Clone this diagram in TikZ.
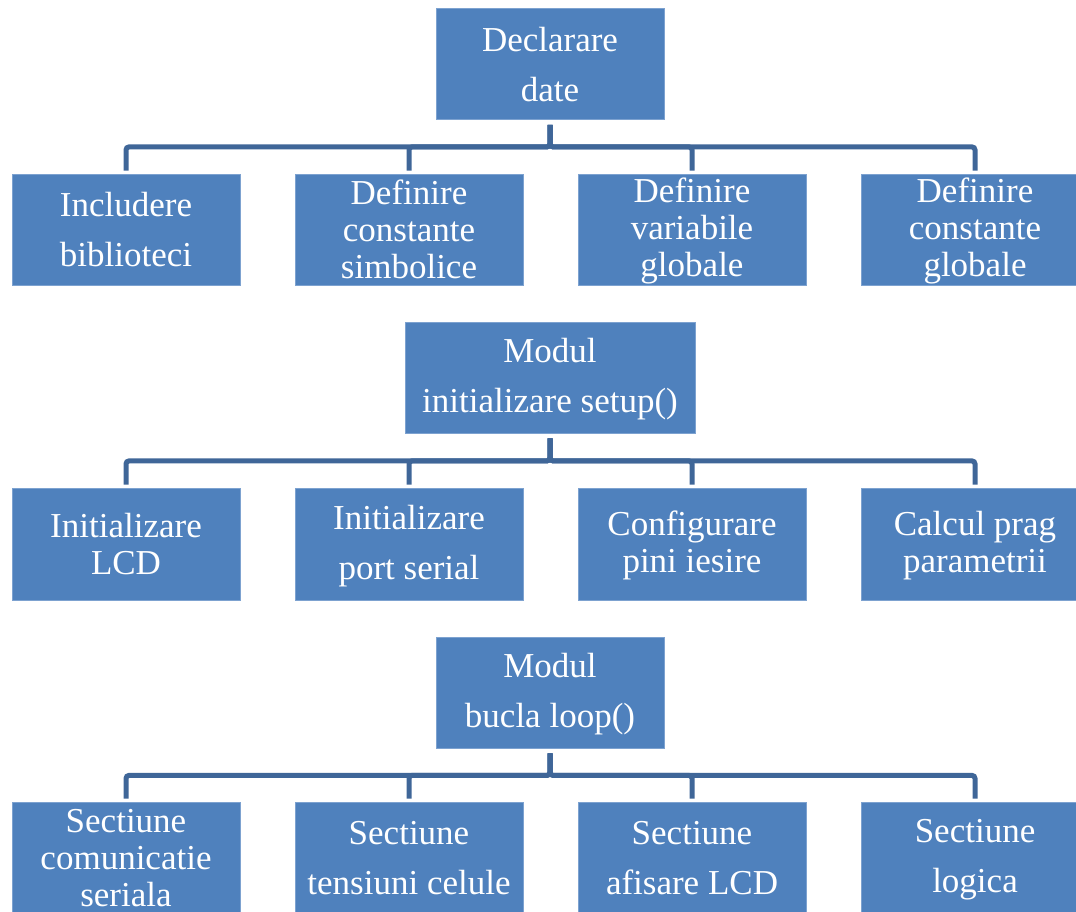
\documentclass[tikz,border=0pt]{standalone}
\usepackage{fontspec}
\setmainfont{Liberation Serif}
\definecolor{boxblue}{RGB}{79,129,189}
\definecolor{boxedge}{RGB}{125,162,208}
\definecolor{linkblue}{RGB}{63,102,152}
% strut fixing the ascent of the first and the descent of the last line
\newcommand\ls{\vrule height 28pt depth 4pt width 0pt}
\tikzset{
  box/.style={fill=boxblue, draw=boxedge, line width=0.8pt,
    minimum width=228pt, minimum height=111pt, inner sep=0pt,
    align=center, text=white, font=\fontsize{35}{50}\selectfont},
  tight/.style={font=\fontsize{35}{37}\selectfont},
  conn/.style={draw=linkblue, line width=5pt, rounded corners=3pt,
    shorten <=5pt, shorten >=3pt}
}
\begin{document}
\begin{tikzpicture}[x=1pt, y=-1pt]
\useasboundingbox (0,0) rectangle (1076,911);
\clip (0,0) rectangle (1076,911);

% --- data declarations
\node[box] (dd) at (550,64) {\ls Declarare\\date\ls};
\node[box] (a1) at (126,229.5) {\ls Includere\\biblioteci\ls};
\node[box,tight] (a2) at (409,229.5) {\ls Definire\\constante\\simbolice\ls};
\node[box,tight] (a3) at (692,229.5) {\ls Definire\\variabile\\globale\ls};
\node[box,tight] (a4) at (975,229.5) {\ls Definire\\constante\\globale\ls};

% --- setup module
\node[box, minimum width=290pt] (ms) at (550,377.5) {\ls Modul\\initializare setup()\ls};
\node[box,tight, minimum height=112pt] (b1) at (126,544) {\ls Initializare\\LCD\ls};
\node[box, minimum height=112pt] (b2) at (409,544) {\ls Initializare\\port serial\ls};
\node[box,tight, minimum height=112pt] (b3) at (692,544) {\ls Configurare\\pini iesire\ls};
\node[box,tight, minimum height=112pt] (b4) at (975,544) {\ls Calcul prag\\parametrii\ls};

% --- loop module
\node[box] (ml) at (550,692.5) {\ls Modul\\bucla loop()\ls};
\node[box,tight] (c1) at (126,857.5) {\ls Sectiune\\comunicatie\\seriala\ls};
\node[box] (c2) at (409,857.5) {\ls Sectiune\\tensiuni celule\ls};
\node[box] (c3) at (692,857.5) {\ls Sectiune\\afisare LCD\ls};
\node[box] (c4) at (975,857.5) {\ls Sectiune\\logica\ls};

% --- elbow connectors
\foreach \c in {a1,a2,a3,a4}
  \draw[conn] (dd.south) -- ++(0,27) -| (\c.north);
\foreach \c in {b1,b2,b3,b4}
  \draw[conn] (ms.south) -- ++(0,27.5) -| (\c.north);
\foreach \c in {c1,c2,c3,c4}
  \draw[conn] (ml.south) -- ++(0,27) -| (\c.north);
\end{tikzpicture}
\end{document}
